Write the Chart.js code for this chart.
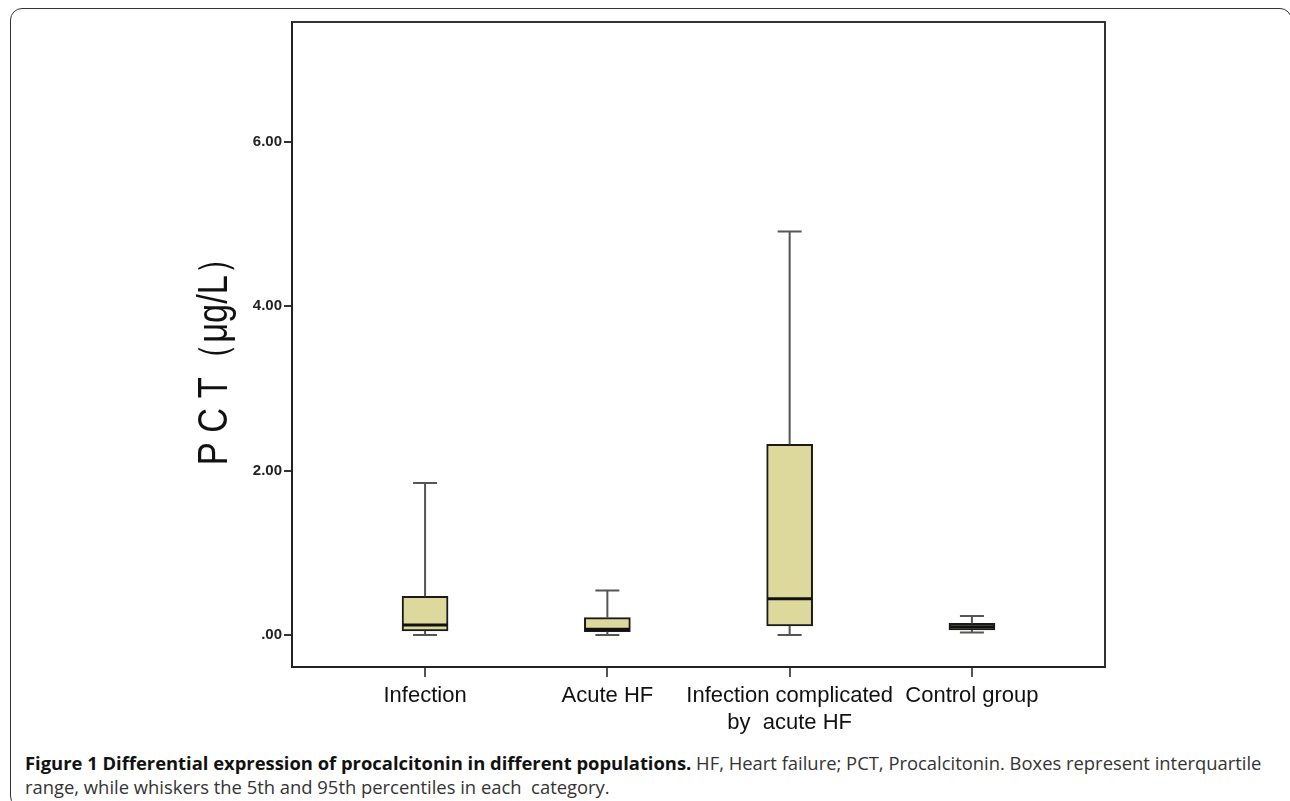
<!DOCTYPE html>
<html>
<head>
<meta charset="utf-8">
<script src="https://cdn.jsdelivr.net/npm/chart.js@4/dist/chart.umd.min.js"></script>
<style>
  body { margin: 0; background: #fff; width: 1290px; height: 801px; overflow: hidden; position: relative; }
  #frame { position: absolute; left: 10px; top: 8px; width: 1282px; height: 800px;
           border: 1.5px solid #333; border-radius: 12px; box-sizing: border-box; }
  #wrap { position: absolute; left: 0; top: 0; width: 1290px; height: 735px; }
  #caption { position: absolute; left: 25px; top: 751px; white-space: nowrap;
             font-family: "Open Sans", sans-serif; font-size: 18.4px; line-height: 24px; color: #333; }
  #caption b { color: #111; }
</style>
</head>
<body>
<div id="frame"></div>
<div id="wrap"><canvas id="pctChart"></canvas></div>
<div id="caption"><b>Figure 1 Differential expression of procalcitonin in different populations.</b> HF, Heart failure; PCT, Procalcitonin. Boxes represent interquartile<br>range, while whiskers the 5th and 95th percentiles in each &nbsp;category.</div>
<script>
const categories = ["Infection", "Acute HF", ["Infection complicated", "by  acute HF"], "Control group"];
const whiskerLow = [0.00, 0.00, 0.00, 0.03];
const q1 = [0.05, 0.04, 0.11, 0.06];
const median = [0.12, 0.07, 0.44, 0.10];
const q3 = [0.47, 0.21, 2.32, 0.14];
const whiskerHigh = [1.85, 0.54, 4.91, 0.23];
const yTicks = [0, 2, 4, 6];
const yTitle = "P C T\uFF08\u03BCg/L\uFF09";

window.onload = function() {
    const ctx = document.getElementById('pctChart').getContext("2d");

    const boxExtras = {
        id: 'boxExtras',
        afterDatasetsDraw(chart) {
            const c = chart.ctx, x = chart.scales.x, y = chart.scales.y;
            c.save();
            for (let i = 0; i < categories.length; i++) {
                const px = x.getPixelForValue(i + 1);
                c.strokeStyle = '#555';
                c.lineWidth = 2;
                c.beginPath();
                c.moveTo(px, y.getPixelForValue(q3[i]));
                c.lineTo(px, y.getPixelForValue(whiskerHigh[i]));
                c.moveTo(px, y.getPixelForValue(q1[i]));
                c.lineTo(px, y.getPixelForValue(whiskerLow[i]));
                c.moveTo(px - 12, y.getPixelForValue(whiskerHigh[i]));
                c.lineTo(px + 12, y.getPixelForValue(whiskerHigh[i]));
                c.moveTo(px - 12, y.getPixelForValue(whiskerLow[i]));
                c.lineTo(px + 12, y.getPixelForValue(whiskerLow[i]));
                c.stroke();
                // median
                c.strokeStyle = '#111';
                c.lineWidth = 3;
                c.beginPath();
                c.moveTo(px - 22, y.getPixelForValue(median[i]));
                c.lineTo(px + 22, y.getPixelForValue(median[i]));
                c.stroke();
            }
            c.restore();
        },
        afterDraw(chart) {
            const c = chart.ctx, a = chart.chartArea;
            c.save();
            c.strokeStyle = '#333';
            c.lineWidth = 2;
            c.beginPath();
            c.moveTo(a.left, a.top);
            c.lineTo(a.right, a.top);
            c.lineTo(a.right, a.bottom);
            c.stroke();
            // y axis title, narrow and tall like the original
            c.translate(215, 353);
            c.rotate(-Math.PI / 2);
            c.scale(0.82, 1);
            c.fillStyle = '#111';
            c.font = '42px "Liberation Sans", Arial, sans-serif';
            c.textAlign = 'center';
            c.textBaseline = 'middle';
            c.fillText(yTitle, 0, 0);
            c.restore();
        }
    };

    const chart = new Chart(ctx, {
        type: 'bar',
        data: {
            datasets: [{
                data: categories.map((c, i) => ({x: i + 1, y: [q1[i], q3[i]]})),
                backgroundColor: '#DDD89C',
                borderColor: '#1a1a1a',
                borderWidth: 2,
                borderSkipped: false,
                barThickness: 46
            }]
        },
        options: {
            responsive: true,
            maintainAspectRatio: false,
            animation: false,
            layout: { padding: { left: 0, right: 185, top: 22, bottom: 0 } },
            plugins: { legend: { display: false }, tooltip: { enabled: false } },
            scales: {
                x: {
                    type: 'linear',
                    min: 0.27,
                    max: 4.73,
                    offset: false,
                    afterBuildTicks: s => { s.ticks = categories.map((c, i) => ({value: i + 1})); },
                    afterFit: s => { s.height = 68; },
                    ticks: {
                        callback: (v) => categories[v - 1],
                        font: { family: '"Liberation Sans", Arial, sans-serif', size: 22 },
                        color: '#111',
                        padding: 6,
                        maxRotation: 0,
                        autoSkip: false
                    },
                    grid: { offset: false, drawOnChartArea: false, drawTicks: true, tickLength: 10, color: '#555', lineWidth: 2 },
                    border: { display: true, color: '#222', width: 2 }
                },
                y: {
                    min: -0.39,
                    max: 7.46,
                    afterBuildTicks: s => { s.ticks = yTicks.map(v => ({value: v})); },
                    afterFit: s => { s.width = 292; },
                    ticks: {
                        callback: (v) => v === 0 ? '.00' : v.toFixed(2),
                        font: { family: '"Liberation Sans", Arial, sans-serif', size: 15, weight: 'bold' },
                        color: '#222',
                        padding: 2
                    },
                    grid: { drawOnChartArea: false, drawTicks: true, tickLength: 8, color: '#333', lineWidth: 2 },
                    border: { display: true, color: '#222', width: 2 }
                }
            }
        },
        plugins: [boxExtras]
    });
}
</script>
</body>
</html>
